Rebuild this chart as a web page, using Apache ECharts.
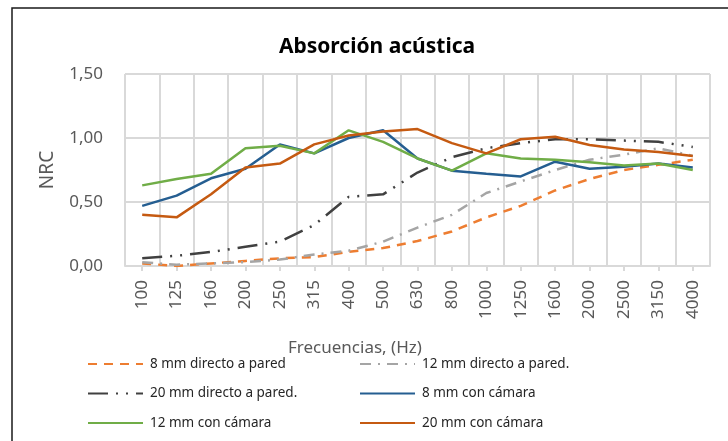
<!DOCTYPE html>
<html>
<head>
<meta charset="utf-8">
<script src="https://cdn.jsdelivr.net/npm/echarts@6/dist/echarts.min.js"></script>
<style>
html,body{margin:0;padding:0;background:#fff;}
#chart{width:728px;height:441px;}
</style>
</head>
<body>
<div id="chart"></div>
<script>
const categories = ['100','125','160','200','250','315','400','500','630','800','1000','1250','1600','2000','2500','3150','4000'];
const yTickLabels = ['0,00','0,50','1,00','1,50'];
const seriesNames = ['8 mm directo a pared','12 mm directo a pared.','20 mm directo a pared.','8 mm con cámara','12 mm con cámara','20 mm con cámara'];
const direct8  = [0.02,0.00,0.02,0.04,0.06,0.07,0.11,0.14,0.195,0.27,0.38,0.47,0.59,0.68,0.75,0.79,0.83];
const direct12 = [0.03,0.01,0.02,0.03,0.05,0.09,0.12,0.19,0.30,0.40,0.57,0.66,0.75,0.83,0.87,0.92,0.86];
const direct20 = [0.06,0.08,0.11,0.15,0.19,0.32,0.54,0.56,0.73,0.85,0.92,0.96,0.99,0.99,0.98,0.97,0.93];
const camara8  = [0.47,0.55,0.685,0.76,0.95,0.88,1.00,1.06,0.84,0.745,0.72,0.70,0.815,0.76,0.775,0.80,0.77];
const camara12 = [0.63,0.68,0.72,0.92,0.94,0.88,1.06,0.97,0.84,0.745,0.88,0.84,0.83,0.81,0.785,0.80,0.75];
const camara20 = [0.40,0.38,0.56,0.77,0.80,0.95,1.02,1.05,1.07,0.96,0.88,0.99,1.01,0.945,0.91,0.89,0.86];

const FONT = 'Noto Sans';
const GRID_C = '#d9d9d9';
const TXT_C = '#595959';

const styles = [
  {color:'#ED7D31', type:[9,7]},
  {color:'#A5A5A5', type:[11,7,2,7]},
  {color:'#404040', type:[20,8,2,8,2,8]},
  {color:'#255E91', type:'solid'},
  {color:'#70AD47', type:'solid'},
  {color:'#C55A11', type:'solid'}
];
const values = [direct8, direct12, direct20, camara8, camara12, camara20];

const legendBase = {
  orient:'vertical', top:357, padding:0, itemWidth:55, itemHeight:14, itemGap:15.5,
  itemStyle:{opacity:0},
  textStyle:{fontFamily:FONT, fontSize:13.5, color:'#262626', padding:[0,0,0,2]}
};

const chart = echarts.init(document.getElementById('chart'), null, {renderer:'canvas'});
chart.setOption({
  animation:false,
  backgroundColor:'#fff',
  textStyle:{fontFamily:FONT},
  title:{
    text:'Absorción acústica',
    left:372, textAlign:'center', top:32,
    textStyle:{fontFamily:FONT, fontWeight:'bold', fontSize:21, color:'#000'}
  },
  graphic:[
    {type:'rect', shape:{x:12, y:8, width:760, height:480}, style:{fill:'none', stroke:'#1a1a1a', lineWidth:1.5}, silent:true},
    {type:'text', left:288, top:340, style:{text:'Frecuencias, (Hz)', font:'17px "Noto Sans"', fill:TXT_C}, silent:true}
  ],
  grid:{left:125, right:18, top:74, bottom:175},
  legend:[
    Object.assign({}, legendBase, {left:87, data:[seriesNames[0], seriesNames[2], seriesNames[4]]}),
    Object.assign({}, legendBase, {left:359, data:[seriesNames[1], seriesNames[3], seriesNames[5]]})
  ],
  xAxis:{
    type:'category', data:categories, boundaryGap:true,
    axisLine:{lineStyle:{color:GRID_C, width:2}},
    axisTick:{show:true, alignWithLabel:true, length:5, lineStyle:{color:GRID_C, width:2}},
    axisLabel:{rotate:90, margin:14, fontSize:17, color:TXT_C, fontFamily:FONT, interval:0},
    splitLine:{show:true, lineStyle:{color:GRID_C, width:2}}
  },
  yAxis:{
    type:'value', min:0, max:1.5, interval:0.5,
    name:'NRC', nameLocation:'middle', nameGap:68, nameRotate:90,
    nameTextStyle:{fontSize:19, color:TXT_C, fontFamily:FONT},
    axisLine:{show:false}, axisTick:{show:false},
    axisLabel:{margin:22, fontSize:17, color:TXT_C, fontFamily:FONT,
      formatter:(v)=>yTickLabels[Math.round(v/0.5)]},
    splitLine:{show:true, lineStyle:{color:GRID_C, width:2}}
  },
  series: values.map((d,i)=>({
    name:seriesNames[i], type:'line', data:d, symbol:'none', smooth:false,
    lineStyle:{color:styles[i].color, width:2.5, type:styles[i].type},
    itemStyle:{color:styles[i].color}
  }))
});
</script>
</body>
</html>
